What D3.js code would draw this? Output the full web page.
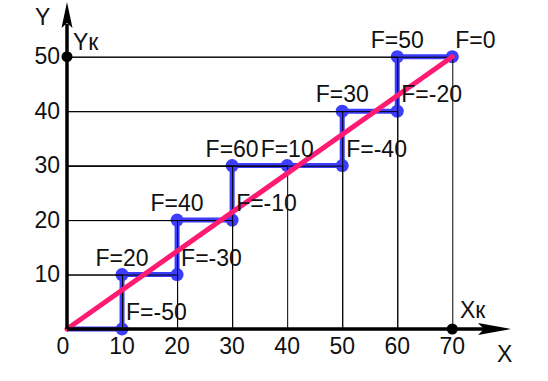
<!DOCTYPE html>
<html>
<head>
<meta charset="utf-8">
<script src="https://cdn.jsdelivr.net/npm/d3@7"></script>
<style>
  html, body { margin: 0; padding: 0; background: #fff; }
  svg text { font-family: "Liberation Sans", Arial, sans-serif; fill: #111; }
</style>
</head>
<body>
<div id="chart"></div>
<script>
// Data.
var xTicks = [0, 10, 20, 30, 40, 50, 60, 70];
var yTicks = [10, 20, 30, 40, 50];
var stepX = [0, 10, 10, 20, 20, 30, 30, 40, 50, 50, 60, 60, 70];
var stepY = [0, 0, 10, 10, 20, 20, 30, 30, 30, 40, 40, 50, 50];
var stepF = [null, -50, 20, -30, 40, -10, 60, 10, -40, 30, -20, 50, 0];
var lineX = [0, 70];
var lineY = [0, 50];

var w = 548, h = 381, fs = 23;

var svg = d3.select("#chart").append("svg")
    .attr("width", w)
    .attr("height", h);

var x = d3.scaleLinear().domain([0, 70]).range([67, 452.3]);
var y = d3.scaleLinear().domain([0, 50]).range([329, 56.7]);

var blue = "#3d3dff", pink = "#ff1a72";

var pts = stepX.map(function(d, i) { return { x: d, y: stepY[i], f: stepF[i], i: i }; });

// staircase
svg.append("path")
    .datum(pts)
    .attr("fill", "none")
    .attr("stroke", blue)
    .attr("stroke-width", 5)
    .attr("stroke-linejoin", "round")
    .attr("d", d3.line().x(function(d) { return x(d.x); }).y(function(d) { return y(d.y); }));

svg.append("g").selectAll("circle")
    .data(pts.filter(function(d) { return d.f !== null; }))
    .enter().append("circle")
    .attr("cx", function(d) { return x(d.x); })
    .attr("cy", function(d) { return y(d.y); })
    .attr("r", 6.5)
    .attr("fill", blue);

// drop lines from every point to both axes
var drops = svg.append("g").attr("stroke", "#000").attr("stroke-width", 1);
pts.forEach(function(d) {
  if (d.f === null) return;
  drops.append("line")
      .attr("x1", x(0)).attr("x2", x(d.x))
      .attr("y1", y(d.y) + 0.5).attr("y2", y(d.y) + 0.5);
  drops.append("line")
      .attr("x1", x(d.x) + 0.5).attr("x2", x(d.x) + 0.5)
      .attr("y1", y(0)).attr("y2", y(d.y));
});

// diagonal
svg.append("line")
    .attr("x1", x(lineX[0])).attr("y1", y(lineY[0]))
    .attr("x2", x(lineX[1])).attr("y2", y(lineY[1]))
    .attr("stroke", pink)
    .attr("stroke-width", 5)
    .attr("stroke-linecap", "round");

// axes with arrows
svg.append("line")
    .attr("x1", x(0)).attr("y1", y(0))
    .attr("x2", 490).attr("y2", y(0))
    .attr("stroke", "#000").attr("stroke-width", 3.5);
svg.append("line")
    .attr("x1", x(0)).attr("y1", y(0))
    .attr("x2", x(0)).attr("y2", 24)
    .attr("stroke", "#000").attr("stroke-width", 3.5);

var ax = x(0), ay = y(0);
svg.append("path")
    .attr("d", "M511," + ay + "L478," + (ay - 6) + "L484," + ay + "L478," + (ay + 6) + "Z")
    .attr("fill", "#000");
svg.append("path")
    .attr("d", "M" + ax + ",2L" + (ax - 5.5) + ",28L" + ax + ",23L" + (ax + 5.5) + ",28Z")
    .attr("fill", "#000");

// tick labels
svg.append("g").selectAll("text")
    .data(xTicks)
    .enter().append("text")
    .attr("x", function(d) { return d === 0 ? x(d) - 4 : x(d); })
    .attr("y", 354)
    .attr("text-anchor", "middle")
    .attr("font-size", fs)
    .text(function(d) { return d; });

svg.append("g").selectAll("text")
    .data(yTicks)
    .enter().append("text")
    .attr("x", 60)
    .attr("y", function(d) { return y(d) + 7.5; })
    .attr("text-anchor", "end")
    .attr("font-size", fs)
    .text(function(d) { return d; });

// axis names and end markers
svg.append("text").attr("x", 35).attr("y", 25).attr("font-size", fs).text("Y");
svg.append("text").attr("x", 497).attr("y", 362).attr("font-size", fs).text("X");
svg.append("text").attr("x", 73).attr("y", 50).attr("font-size", fs).text("Yк");
svg.append("text").attr("x", 460).attr("y", 318).attr("font-size", fs).text("Xк");

svg.append("circle").attr("cx", x(0)).attr("cy", y(50)).attr("r", 5.5).attr("fill", "#000");
svg.append("circle").attr("cx", x(70)).attr("cy", y(0)).attr("r", 5.5).attr("fill", "#000");

// F labels: right of the corner where the path turns upward, otherwise above
svg.append("g").selectAll("text")
    .data(pts.filter(function(d) { return d.f !== null; }))
    .enter().append("text")
    .attr("font-size", fs)
    .attr("x", function(d) {
      var nx = pts[d.i + 1];
      if (nx && nx.x === d.x) return x(d.x) + 4;
      if (!nx) return x(d.x) + 3;
      return x(d.x);
    })
    .attr("y", function(d) { return y(d.y) - 9; })
    .attr("text-anchor", function(d) {
      var nx = pts[d.i + 1];
      return (!nx || nx.x === d.x) ? "start" : "middle";
    })
    .text(function(d) { return "F=" + d.f; });
</script>
</body>
</html>
